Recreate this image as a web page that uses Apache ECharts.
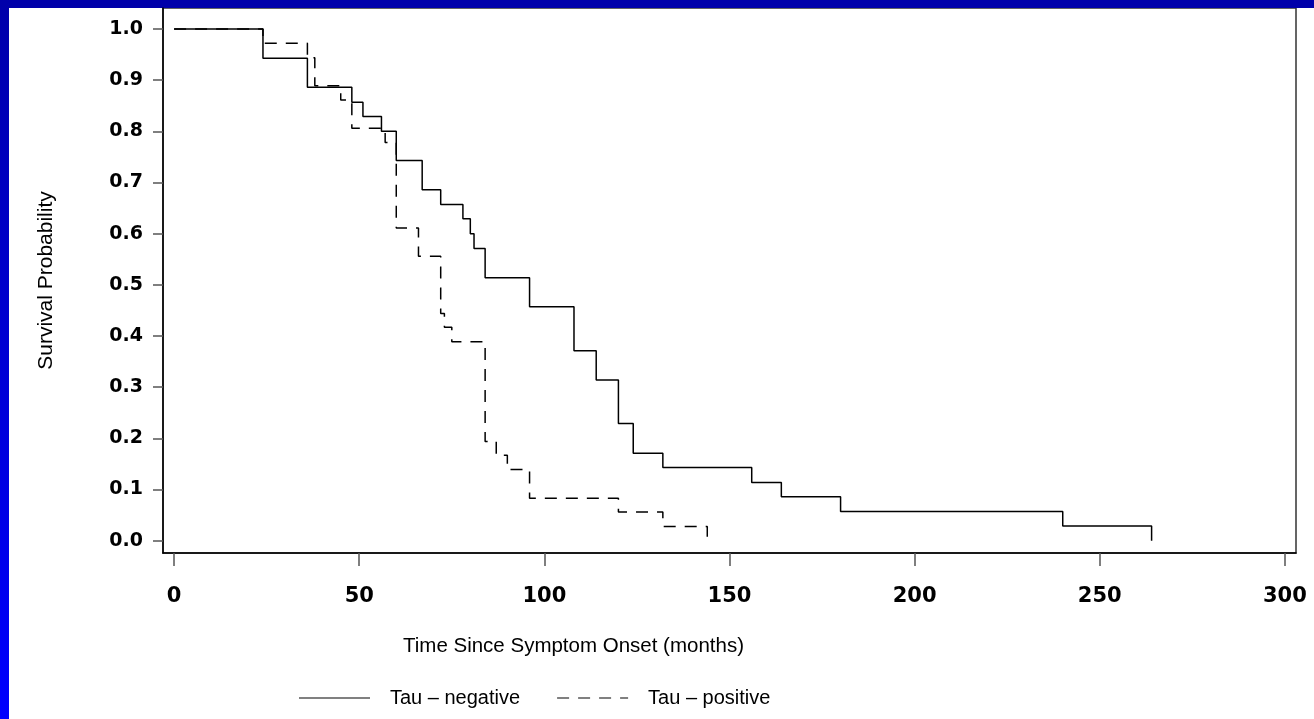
<!DOCTYPE html>
<html>
<head>
<meta charset="utf-8">
<title>Survival by Tau status</title>
<script src="https://cdn.jsdelivr.net/npm/echarts@6/dist/echarts.min.js"></script>
<style>
  html, body { margin: 0; padding: 0; background: #fff; }
  #chart { width: 1314px; height: 719px; }
</style>
</head>
<body>
<div id="chart"></div>
<script>
// ------------------------- BEGIN DATA -------------------------
// Kaplan-Meier steps (months, survival)
var negTime = [0, 24, 36, 48, 51, 56, 60, 67, 72, 78, 80, 81, 84, 96, 108, 114, 120, 124, 132, 156, 164, 180, 240, 264];
var negSurv = [1.000, 0.943, 0.886, 0.857, 0.829, 0.800, 0.743, 0.686, 0.657, 0.629, 0.600, 0.571,
               0.514, 0.457, 0.371, 0.314, 0.229, 0.171, 0.143, 0.114, 0.086, 0.057, 0.029, 0.000];

var posTime = [0, 24, 36, 38, 45, 48, 57, 60, 66, 72, 73, 75, 84, 87, 90, 96, 120, 132, 144];
var posSurv = [1.000, 0.972, 0.944, 0.889, 0.861, 0.806, 0.778, 0.611, 0.556, 0.444, 0.417,
               0.389, 0.194, 0.167, 0.139, 0.083, 0.056, 0.028, 0.000];

var seriesNames = ['Tau \u2013 negative', 'Tau \u2013 positive'];
var xTicks = [0, 50, 100, 150, 200, 250, 300];
var yTicks = [0, 0.1, 0.2, 0.3, 0.4, 0.5, 0.6, 0.7, 0.8, 0.9, 1.0];
// -------------------------- END DATA --------------------------

var kmChart = (function () {
  var
    textFont = "'Liberation Sans Narrow', 'Liberation Sans', Arial, sans-serif",
    boldFont = "'DejaVu Sans', 'Liberation Sans', sans-serif",
    dashed   = [12, 9],

    zipPairs, buildOption, initModule
  ;

  // Begin utility /zipPairs/
  zipPairs = function (xs, ys) {
    var i, out = [];
    for (i = 0; i < xs.length; i++) {
      out.push([xs[i], ys[i]]);
    }
    return out;
  };
  // End utility /zipPairs/

  // Begin /buildOption/
  buildOption = function () {
    return {
      backgroundColor : '#ffffff',
      animation : false,
      // blue slide frame (top band + left band)
      graphic : [
        {
          type : 'rect', left : 0, top : 0, silent : true,
          shape : { width : 1314, height : 8 },
          style : { fill : '#0000aa' }
        },
        {
          type : 'rect', left : 0, top : 0, silent : true,
          shape : { width : 9, height : 719 },
          style : {
            fill : new echarts.graphic.LinearGradient(0, 0, 0, 1, [
              { offset : 0, color : '#0000aa' },
              { offset : 1, color : '#0000ff' }
            ])
          }
        }
      ],
      title : {
        text : 'Time Since Symptom Onset (months)',
        left : 403,
        top  : 636,
        padding : 0,
        textStyle : {
          fontFamily : textFont, fontSize : 20.5,
          fontWeight : 'normal', color : '#000'
        }
      },
      legend : {
        show : true,
        orient : 'horizontal',
        left : 298,
        top  : 688,
        padding : 0,
        itemWidth : 71,
        itemHeight : 14,
        itemGap : 36,
        textStyle : {
          fontFamily : textFont, fontSize : 20, color : '#000',
          padding : [0, 0, 0, 15]
        },
        data : [
          { name : seriesNames[0], itemStyle : { opacity : 0 }, lineStyle : { color : '#808080' } },
          { name : seriesNames[1], itemStyle : { opacity : 0 }, lineStyle : { color : '#808080' } }
        ]
      },
      grid : {
        left : 163, top : 8, right : 18, bottom : 166,
        outerBoundsMode : 'none',
        show : true,
        borderColor : '#333',
        borderWidth : 1.5,
        backgroundColor : 'transparent'
      },
      xAxis : {
        type : 'value',
        min  : -3,
        max  : 303,
        splitLine : { show : false },
        axisLine  : { show : true, onZero : false, lineStyle : { color : '#000', width : 1.5 } },
        axisTick  : {
          show : true, inside : false, length : 13,
          customValues : xTicks,
          lineStyle : { color : '#555', width : 1.5 }
        },
        axisLabel : {
          customValues : xTicks,
          margin : 33,
          fontFamily : boldFont, fontSize : 21, fontWeight : 'bold', color : '#000'
        }
      },
      yAxis : {
        type : 'value',
        min  : -0.024,
        max  : 1.041,
        name : 'Survival Probability',
        nameLocation : 'middle',
        nameRotate : 90,
        nameGap : 106,
        nameTextStyle : { fontFamily : textFont, fontSize : 21, color : '#000' },
        splitLine : { show : false },
        axisLine  : { show : true, onZero : false, lineStyle : { color : '#000', width : 1.5 } },
        axisTick  : {
          show : true, inside : false, length : 10,
          customValues : yTicks,
          lineStyle : { color : '#555', width : 1.5 }
        },
        axisLabel : {
          customValues : yTicks,
          margin : 20,
          formatter : function (v) { return v.toFixed(1); },
          fontFamily : boldFont, fontSize : 19, fontWeight : 'bold', color : '#000'
        }
      },
      series : [
        {
          name : seriesNames[0],
          type : 'line',
          step : 'end',
          symbol : 'none',
          data : zipPairs(negTime, negSurv),
          lineStyle : { color : '#000', width : 1.5, type : 'solid' },
          itemStyle : { color : '#000' },
          z : 3
        },
        {
          name : seriesNames[1],
          type : 'line',
          step : 'end',
          symbol : 'none',
          data : zipPairs(posTime, posSurv),
          lineStyle : { color : '#000', width : 1.5, type : dashed },
          itemStyle : { color : '#000' },
          z : 2
        }
      ]
    };
  };
  // End /buildOption/

  // Begin public method /initModule/
  initModule = function (el) {
    var myChart = echarts.init(el, null, { renderer : 'canvas' });
    myChart.setOption(buildOption());
    return myChart;
  };
  // End public method /initModule/

  return { initModule : initModule };
}());

kmChart.initModule(document.getElementById('chart'));
</script>
</body>
</html>
